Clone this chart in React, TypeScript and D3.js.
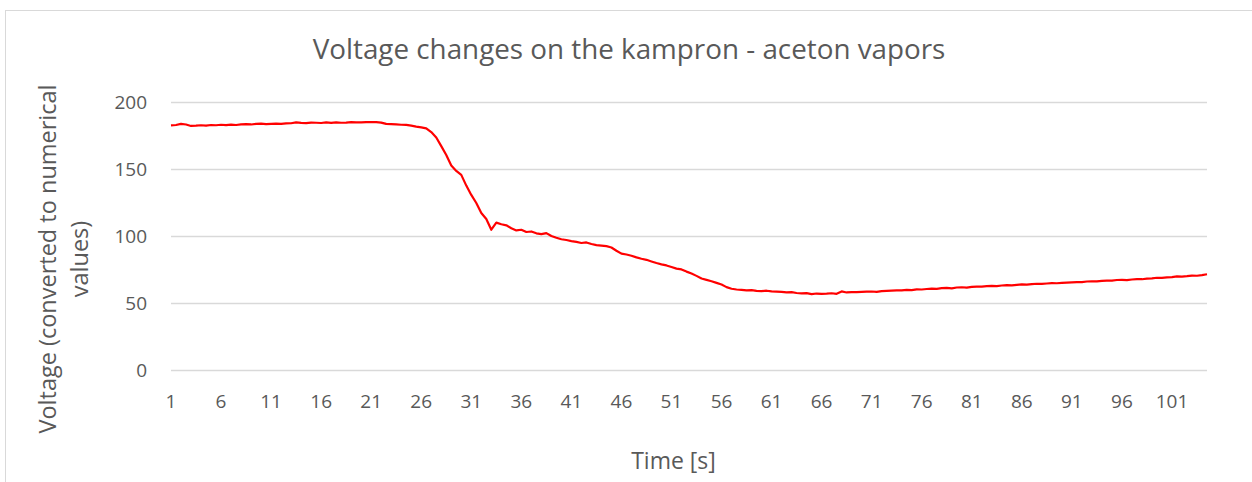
import React from "react";
import * as d3 from "d3";

// Sample times every 0.5 s (seconds)
const times: number[] = d3.range(1, 104.51, 0.5);

// Voltage values (converted to numerical values), 0.5 s steps
const voltage1to10: number[] = [182.5, 182.8, 183.6, 183.2, 182.1, 182.3, 182.6, 182.4, 182.8, 182.6, 183.0, 182.7, 183.1, 182.8, 183.3, 183.5, 183.2, 183.6, 183.8, 183.5];
const voltage11to20: number[] = [183.7, 183.9, 183.6, 184.0, 184.1, 184.8, 184.4, 184.2, 184.6, 184.5, 184.3, 184.7, 184.4, 184.8, 184.5, 184.6, 184.9, 184.7, 184.8, 185.0];
const voltage21to30: number[] = [184.9, 185.0, 184.6, 183.6, 183.4, 183.2, 183.0, 182.9, 182.3, 181.6, 181.0, 180.3, 177.5, 173.5, 167.0, 160.4, 152.5, 148.5, 145.5, 137.5];
const voltage31to40: number[] = [130.5, 124.5, 117.0, 112.5, 104.5, 109.8, 108.6, 107.8, 105.6, 104.0, 104.5, 102.8, 103.2, 101.8, 101.2, 102.0, 99.8, 98.5, 97.4, 96.8];
const voltage41to50: number[] = [96.0, 95.4, 94.6, 95.0, 93.8, 93.0, 92.6, 92.2, 91.2, 88.8, 86.6, 86.0, 85.0, 83.8, 82.8, 82.0, 80.8, 79.6, 78.6, 77.8];
const voltage51to60: number[] = [76.6, 75.4, 74.8, 73.2, 71.8, 70.0, 68.0, 67.0, 66.0, 64.8, 63.6, 61.6, 60.4, 59.8, 59.6, 59.2, 59.4, 58.8, 58.6, 58.9];
const voltage61to70: number[] = [58.4, 58.2, 58.0, 57.6, 57.8, 57.2, 56.9, 57.1, 56.4, 56.8, 56.5, 56.7, 57.0, 56.6, 58.4, 57.6, 57.9, 57.8, 58.0, 58.2];
const voltage71to80: number[] = [58.3, 58.1, 58.6, 58.8, 59.0, 59.2, 59.1, 59.6, 59.4, 59.9, 59.8, 60.2, 60.5, 60.3, 60.8, 61.0, 60.6, 61.3, 61.5, 61.2];
const voltage81to90: number[] = [61.8, 62.0, 61.9, 62.3, 62.5, 62.4, 62.8, 63.1, 62.9, 63.3, 63.6, 63.4, 63.8, 64.1, 64.0, 64.3, 64.6, 64.5, 64.8, 65.0];
const voltage91to100: number[] = [65.2, 65.4, 65.3, 65.8, 66.0, 65.9, 66.3, 66.5, 66.4, 66.9, 67.0, 66.8, 67.3, 67.6, 67.5, 67.9, 68.2, 68.6, 68.5, 68.9];
const voltage101to104: number[] = [69.1, 69.6, 69.5, 69.8, 70.2, 70.1, 70.6, 71.2];

const voltage: number[] = [
  ...voltage1to10, ...voltage11to20, ...voltage21to30, ...voltage31to40, ...voltage41to50,
  ...voltage51to60, ...voltage61to70, ...voltage71to80, ...voltage81to90, ...voltage91to100, ...voltage101to104,
];

const xTicks: number[] = [1, 6, 11, 16, 21, 26, 31, 36, 41, 46, 51, 56, 61, 66, 71, 76, 81, 86, 91, 96, 101];
const yTicks: number[] = [0, 50, 100, 150, 200];

const title = "Voltage changes on the kampron - aceton vapors";
const xTitle = "Time [s]";
const yTitleLines = ["Voltage (converted to numerical", "values)"];

const W = 1252;
const H = 482;
const FONT = "'Open Sans', 'Noto Sans', sans-serif";
const TEXT = "#595959";
const GRID = "#d9d9d9";

export default function App() {
  const x = d3.scaleLinear().domain([1, 104.5]).range([171, 1207]);
  const y = d3.scaleLinear().domain([0, 200]).range([369.5, 102]);
  const pts: [number, number][] = times.slice(0, voltage.length).map((t, i) => [t, voltage[i]]);
  const line = d3
    .line<[number, number]>()
    .x((d) => x(d[0]))
    .y((d) => y(d[1]));

  return (
    <svg
      width={W}
      height={H}
      style={{ position: "absolute", left: 0, top: 0, background: "#fff" }}
      fontFamily={FONT}
    >
      <rect x={0} y={0} width={W} height={H} fill="#fff" />
      <rect x={5.5} y={10.5} width={1300} height={600} fill="#fff" stroke={GRID} strokeWidth={1} />
      <text x={629} y={59} textAnchor="middle" fontSize={27.8} fill={TEXT}>
        {title}
      </text>
      {yTicks.map((v) => (
        <g key={v}>
          <line x1={171} x2={1207} y1={Math.round(y(v)) + 0.5} y2={Math.round(y(v)) + 0.5} stroke={GRID} strokeWidth={1.6} />
          <text x={147} y={y(v) + 7} textAnchor="end" fontSize={19} fill={TEXT}>
            {v}
          </text>
        </g>
      ))}
      {xTicks.map((t) => (
        <text key={t} x={x(t)} y={408} textAnchor="middle" fontSize={19} fill={TEXT}>
          {t}
        </text>
      ))}
      <path d={line(pts) || ""} fill="none" stroke="#ff0000" strokeWidth={2.2} strokeLinejoin="round" />
      <text x={673.5} y={469} textAnchor="middle" fontSize={23} fill={TEXT}>
        {xTitle}
      </text>
      <text transform="translate(56,259) rotate(-90)" textAnchor="middle" fontSize={23.5} fill={TEXT}>
        <tspan x={0} y={0}>{yTitleLines[0]}</tspan>
        <tspan x={0} y={32}>{yTitleLines[1]}</tspan>
      </text>
    </svg>
  );
}
